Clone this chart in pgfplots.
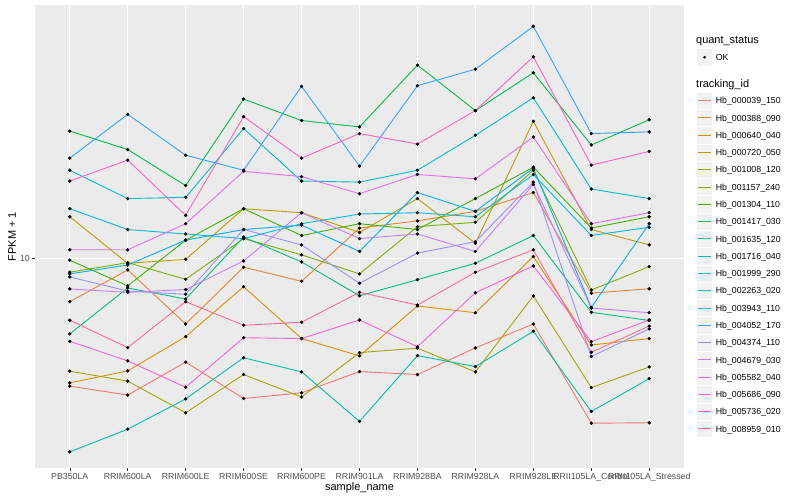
\documentclass[border=0pt]{standalone}
\usepackage{fontspec}
\setmainfont{Liberation Sans}
\usepackage{pgfplots}
\usepackage{pgfplotstable}
\pgfplotsset{compat=1.18}

\definecolor{c1}{HTML}{F8766D}
\definecolor{c2}{HTML}{EA8331}
\definecolor{c3}{HTML}{D89000}
\definecolor{c4}{HTML}{C09B00}
\definecolor{c5}{HTML}{A3A500}
\definecolor{c6}{HTML}{7CAE00}
\definecolor{c7}{HTML}{39B600}
\definecolor{c8}{HTML}{00BB4E}
\definecolor{c9}{HTML}{00BF7D}
\definecolor{c10}{HTML}{00C1A3}
\definecolor{c11}{HTML}{00BFC4}
\definecolor{c12}{HTML}{00BAE0}
\definecolor{c13}{HTML}{00B0F6}
\definecolor{c14}{HTML}{35A2FF}
\definecolor{c15}{HTML}{9590FF}
\definecolor{c16}{HTML}{C77CFF}
\definecolor{c17}{HTML}{E76BF3}
\definecolor{c18}{HTML}{FA62DB}
\definecolor{c19}{HTML}{FF62BC}
\definecolor{c20}{HTML}{FF6C91}
\definecolor{panelbg}{HTML}{EBEBEB}
\definecolor{keybg}{HTML}{F2F2F2}
\definecolor{grey30}{HTML}{4D4D4D}
\definecolor{grey20}{HTML}{333333}

\pgfplotstableread{
x s1 s2 s3 s4 s5 s6 s7 s8 s9 s10 s11 s12 s13 s14 s15 s16 s17 s18 s19 s20
0 4.79 7.79 4.88 12.7 5.22 9.23 9.89 20.8 6.47 3.28 16.6 13.3 9.14 17.8 8.98 8.38 10.5 6.20 15.6 7.00
1 4.55 9.35 5.23 9.71 4.93 9.75 8.53 18.7 8.43 3.74 14.1 11.8 9.62 22.9 8.28 8.22 10.5 5.54 17.6 5.98
2 5.50 6.85 6.37 9.94 4.11 8.86 11.1 15.2 7.91 4.45 14.2 11.5 11.1 18.1 8.13 8.35 12.2 4.76 12.8 7.79
3 4.46 9.50 8.49 13.3 5.12 11.2 13.3 25.0 11.3 5.64 21.1 11.2 11.8 16.6 11.8 9.85 16.5 6.33 22.6 6.80
4 4.61 8.76 6.30 13.0 4.50 10.2 11.4 22.1 9.79 5.20 15.6 12.2 12.1 26.9 10.8 13.0 16.0 6.30 17.8 6.92
5 5.21 11.9 5.70 11.6 5.81 9.14 12.2 21.3 8.06 3.91 15.5 12.9 10.4 17.0 8.66 11.2 14.5 7.01 20.5 8.22
6 5.12 12.4 7.60 14.1 5.96 12.0 11.8 30.4 8.84 5.71 16.6 13.0 14.6 27.0 10.3 11.5 16.2 6.01 19.3 7.64
7 5.97 13.1 7.31 10.9 5.20 12.3 14.1 23.4 9.72 5.36 20.3 12.7 13.1 29.7 11.0 10.4 15.8 8.20 23.4 9.23
8 6.85 14.6 10.1 22.0 8.05 16.6 16.9 29.1 11.4 6.57 25.2 16.2 16.8 38.0 15.5 15.3 20.1 9.57 31.9 10.5
9 3.87 8.18 6.07 11.8 4.75 8.33 11.9 19.2 7.33 4.14 14.9 11.4 7.54 20.5 5.68 7.51 12.2 6.19 17.1 5.82
10 3.88 8.39 6.30 10.8 5.35 9.53 12.7 22.2 6.99 5.00 14.1 11.95 12.2 20.7 6.66 7.31 13.0 7.01 18.5 6.77
}\datatable

\begin{document}
\begin{tikzpicture}[x=1bp,y=1bp]
\path[use as bounding box] (0,0) rectangle (800,500);
\begin{axis}[
  at={(35bp,31.7bp)}, anchor=south west,
  scale only axis, width=649bp, height=463.3bp,
  xmin=-0.6, xmax=10.6,
  ymode=log, ymin=2.985, ymax=42.98,
  axis background/.style={fill=panelbg},
  axis line style={draw=none},
  xtick={0,...,10},
  xticklabels={PB350LA,RRIM600LA,RRIM600LE,RRIM600SE,RRIM600PE,RRIM901LA,RRIM928BA,RRIM928LA,RRIM928LE,RRII105LA\_Control,RRII105LA\_Stressed},
  ytick={10}, yticklabels={10},
  yminorticks=false, xminorticks=false,
  xmajorgrids, ymajorgrids,
  major grid style={white, line width=1.1bp},
  tick align=outside, xtick pos=left, ytick pos=left,
  major tick length=2.75bp,
  tick style={grey20, line width=0.5bp},
  ticklabel style={font=\fontsize{8.8}{10}\selectfont, text=grey30},
  xticklabel style={anchor=north, inner sep=0pt, yshift=-2.2bp},
  yticklabel style={anchor=east, inner sep=0pt, xshift=-2.2bp},
  /pgf/number format/assume math mode=true,
  xlabel={sample\_name}, ylabel={FPKM + 1},
  every axis x label/.style={at={(axis description cs:0.5,-0.0425)}, anchor=center, font=\fontsize{11}{13}\selectfont},
  every axis y label/.style={at={(axis description cs:-0.0354,0.5)}, rotate=90, anchor=center, font=\fontsize{11}{13}\selectfont},
]
\pgfplotsinvokeforeach{1,...,20}{
  \addplot[color=c#1, line width=0.9bp, no marks] table[x=x,y=s#1]{\datatable};
}
\pgfplotsinvokeforeach{1,...,20}{
  \addplot[only marks, mark=*, mark size=1.5bp, black] table[x=x,y=s#1]{\datatable};
}
\end{axis}
% legend
\node[anchor=base west, inner sep=0pt, font=\fontsize{11}{13}\selectfont] at (696,456.3) {quant\_status};
\path[fill=keybg, draw=white, line width=0.6] (696.7,434.06) rectangle (712.7,451.34);
\fill[black] (704.7,442.7) circle (1.5);
\node[anchor=base west, inner sep=0pt, font=\fontsize{8.8}{10}\selectfont] at (715.7,439.55) {OK};
\node[anchor=base west, inner sep=0pt, font=\fontsize{11}{13}\selectfont] at (696,412.72) {tracking\_id};
\foreach \cc/\nm [count=\i from 0] in {
  c1/Hb\_000039\_150, c2/Hb\_000388\_090, c3/Hb\_000640\_040, c4/Hb\_000720\_050,
  c5/Hb\_001008\_120, c6/Hb\_001157\_240, c7/Hb\_001304\_110, c8/Hb\_001417\_030,
  c9/Hb\_001635\_120, c10/Hb\_001716\_040, c11/Hb\_001999\_290, c12/Hb\_002263\_020,
  c13/Hb\_003943\_110, c14/Hb\_004052\_170, c15/Hb\_004374\_110, c16/Hb\_004679\_030,
  c17/Hb\_005582\_040, c18/Hb\_005686\_090, c19/Hb\_005736\_020, c20/Hb\_008959\_010}{
  \pgfmathsetmacro\yc{500-100.68-17.28*\i}
  \pgfmathsetmacro\yl{floor(\yc)+0.5}
  \path[fill=keybg, draw=white, line width=0.6] (696.7,{\yc-8.64}) rectangle (712.7,{\yc+8.64});
  \draw[draw=\cc, line width=1.0] (698.2,\yl) -- (711.2,\yl);
  \node[anchor=base west, inner sep=0pt, font=\fontsize{8.8}{10}\selectfont] at (715.7,{\yc-3.15}) {\nm};
}
\end{tikzpicture}
\end{document}
